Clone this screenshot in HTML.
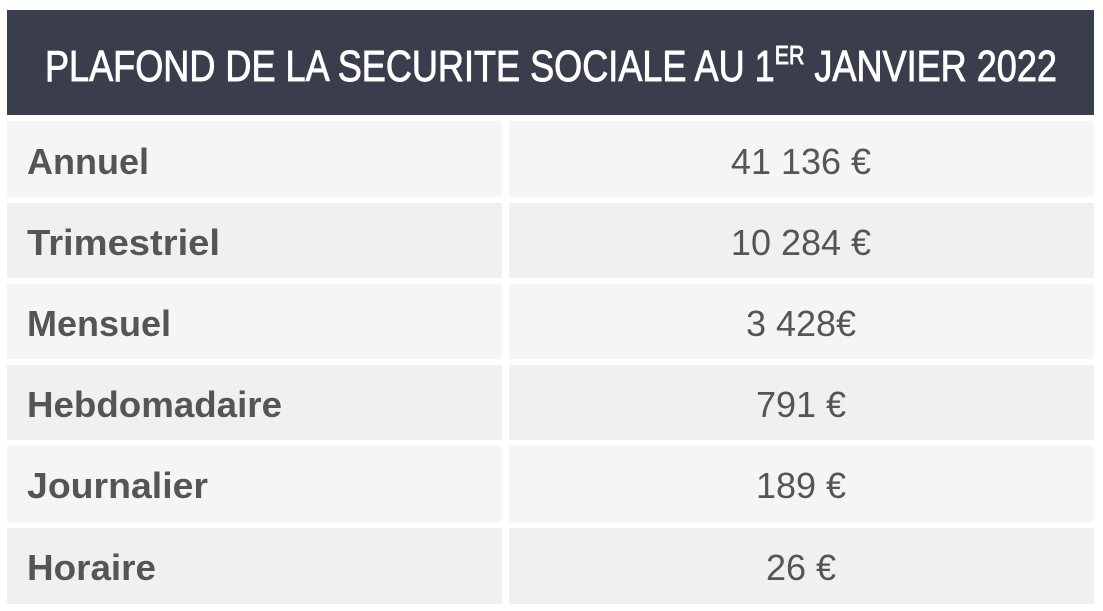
<!DOCTYPE html>
<html><head><meta charset="utf-8"><style>
html,body{margin:0;padding:0;background:#fff;}
svg{display:block}
</style></head><body>
<svg width="1103" height="611" xmlns="http://www.w3.org/2000/svg" font-family="Liberation Sans, sans-serif">
<rect x="0" y="0" width="1103" height="611" fill="#fff"/>
<rect x="7" y="10" width="1087" height="105" fill="#3a3d4c"/>
<text x="45" y="81" font-size="44" fill="#fff" stroke="#fff" stroke-width="0.9" textLength="1012" lengthAdjust="spacingAndGlyphs">PLAFOND DE LA SECURITE SOCIALE AU 1<tspan font-size="26" dy="-17">ER</tspan><tspan dy="17"> JANVIER 2022</tspan></text>
<g fill="#555">
<rect x="7" y="121" width="495" height="76" fill="#f5f5f5"/><rect x="509" y="121" width="585" height="76" fill="#f5f5f5"/>
<rect x="7" y="203" width="495" height="75" fill="#f0f0f0"/><rect x="509" y="203" width="585" height="75" fill="#f0f0f0"/>
<rect x="7" y="284" width="495" height="75" fill="#f5f5f5"/><rect x="509" y="284" width="585" height="75" fill="#f5f5f5"/>
<rect x="7" y="365" width="495" height="75" fill="#f0f0f0"/><rect x="509" y="365" width="585" height="75" fill="#f0f0f0"/>
<rect x="7" y="446" width="495" height="76" fill="#f5f5f5"/><rect x="509" y="446" width="585" height="76" fill="#f5f5f5"/>
<rect x="7" y="528" width="495" height="76" fill="#f0f0f0"/><rect x="509" y="528" width="585" height="76" fill="#f0f0f0"/>
</g>
<g fill="#555" font-weight="bold" font-size="36">
<text x="27" y="174" textLength="122" lengthAdjust="spacingAndGlyphs">Annuel</text>
<text x="27" y="255" textLength="193" lengthAdjust="spacingAndGlyphs">Trimestriel</text>
<text x="27" y="336" textLength="144" lengthAdjust="spacingAndGlyphs">Mensuel</text>
<text x="27" y="417" textLength="255" lengthAdjust="spacingAndGlyphs">Hebdomadaire</text>
<text x="27" y="498" textLength="181" lengthAdjust="spacingAndGlyphs">Journalier</text>
<text x="27" y="580" textLength="129" lengthAdjust="spacingAndGlyphs">Horaire</text>
</g>
<g fill="#555" font-size="36" text-anchor="middle">
<text x="801" y="174">41 136 €</text>
<text x="801" y="255">10 284 €</text>
<text x="801" y="336">3 428€</text>
<text x="801" y="417">791 €</text>
<text x="801" y="498">189 €</text>
<text x="801" y="580">26 €</text>
</g>
</svg>
</body></html>
